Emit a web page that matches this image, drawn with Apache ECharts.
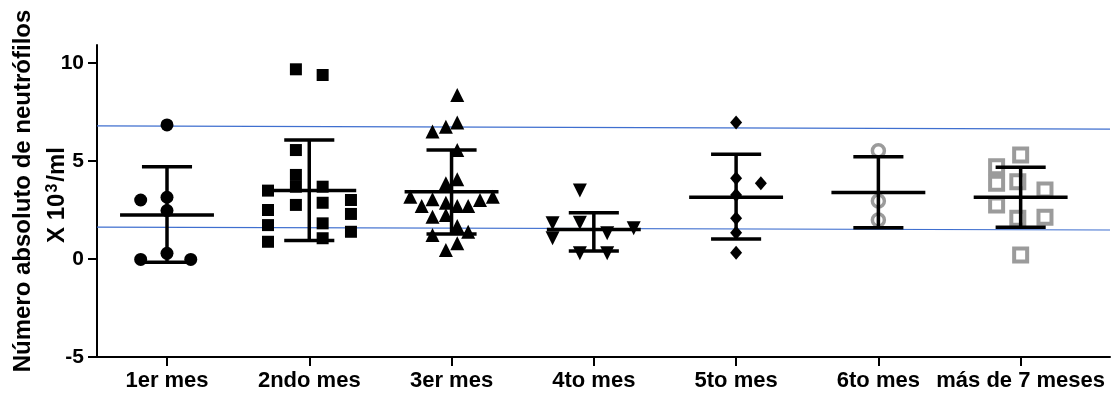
<!DOCTYPE html>
<html>
<head>
<meta charset="utf-8">
<script src="https://cdn.jsdelivr.net/npm/echarts@6/dist/echarts.min.js"></script>
<style>html,body{margin:0;padding:0;background:#fff;}#c{width:1117px;height:396px;}</style>
</head>
<body>
<div id="c"></div>
<script>
const categories = ['1er mes', '2ndo mes', '3er mes', '4to mes', '5to mes', '6to mes', 'más de 7 meses'];
const yTicks = [-5, 0, 5, 10];

// points per group: [horizontal offset within group (category units), value]
const g1 = [[0, 6.84], [0, 3.15], [0, 2.47], [0, 0.29], [-0.185, 3.01], [-0.185, -0.02], [0.167, -0.02]];
const g2 = [[-0.094, 9.68], [0.094, 9.39], [-0.094, 5.56], [-0.094, 4.29], [-0.094, 3.69], [-0.094, 2.76],
            [-0.29, 3.49], [-0.29, 2.5], [-0.29, 1.73], [-0.29, 0.88],
            [0.094, 3.69], [0.094, 2.87], [0.094, 1.82], [0.094, 1.06],
            [0.293, 3.01], [0.293, 2.3], [0.293, 1.39]];
const g3 = [[0.04, 8.37], [-0.134, 6.5], [-0.04, 6.75], [0.04, 6.96], [0.04, 5.56],
            [-0.04, 3.86], [0.04, 4.07], [-0.29, 3.18], [-0.21, 2.7], [-0.134, 3.05], [-0.04, 2.87],
            [0.04, 2.7], [0.117, 2.7], [0.2, 3.01], [0.29, 3.18], [-0.134, 2.16], [-0.04, 2.24],
            [0.04, 1.68], [0.117, 1.39], [-0.134, 1.22], [-0.04, 0.46], [0.04, 0.8]];
const g4 = [[-0.098, 3.49], [-0.29, 1.82], [-0.098, 1.85], [-0.29, 1.06], [0.094, 1.31], [0.28, 1.57], [-0.098, 0.29], [0.094, 0.29]];
const g5 = [[0, 6.96], [0, 4.12], [0.174, 3.86], [0, 3.27], [0, 2.08], [0, 1.34], [0, 0.32]];
const g6 = [[0, 5.53], [0, 2.96], [0, 1.99]];
const g7 = [[0, 5.31], [-0.169, 4.71], [-0.169, 3.86], [-0.02, 3.94], [0.171, 3.52], [-0.169, 2.76], [-0.02, 2.08], [0.171, 2.13], [0, 0.2]];

// mean and SD bars per group
const means = [2.24, 3.49, 3.43, 1.51, 3.15, 3.40, 3.15];
const upper = [4.71, 6.07, 5.56, 2.36, 5.34, 5.22, 4.68];
const lower = [-0.17, 0.94, 1.28, 0.41, 1.02, 1.60, 1.62];

// reference (blue) lines: [value at left end, value at right end]
const refHigh = [6.79, 6.63];
const refLow = [1.63, 1.48];

const X_MIN = -0.492, X_MAX = 6.628;
const FONT = '"Liberation Sans", Arial, sans-serif';

function pts(arr, gi) { return arr.map(p => [gi + p[0], p[1]]); }

const chart = echarts.init(document.getElementById('c'), null, {renderer: 'canvas'});

const black = '#000';
const gray = '#9b9b9b';

const scatterCommon = {type: 'scatter', silent: true, z: 3};

const option = {
  animation: false,
  backgroundColor: '#fff',
  grid: {left: 97, right: 7, top: 45, bottom: 39, containLabel: false},
  xAxis: {
    type: 'value', min: X_MIN, max: X_MAX,
    splitLine: {show: false},
    axisLine: {show: true, onZero: false, lineStyle: {color: black, width: 2}},
    axisTick: {show: true, length: 9, lineStyle: {color: black, width: 2}, customValues: categories.map((c, i) => i)},
    axisLabel: {
      customValues: categories.map((c, i) => i),
      formatter: v => categories[Math.round(v)],
      color: black, fontWeight: 'bold', fontSize: 22, fontFamily: FONT, margin: 13
    }
  },
  yAxis: {
    type: 'value', min: -5, max: 10.92,
    splitLine: {show: false},
    axisLine: {show: true, onZero: false, lineStyle: {color: black, width: 2}},
    axisTick: {show: true, length: 9, lineStyle: {color: black, width: 2}, customValues: yTicks},
    axisLabel: {customValues: yTicks, color: black, fontWeight: 'bold', fontSize: 21, fontFamily: FONT, margin: 13}
  },
  graphic: [
    {type: 'text', x: 23, y: 191, rotation: Math.PI / 2,
     style: {text: 'Número absoluto de neutrófilos', fill: black, font: 'bold 24px ' + FONT, textAlign: 'center', textVerticalAlign: 'middle'}},
    {type: 'text', x: 57, y: 195, rotation: Math.PI / 2,
     style: {text: 'X 10{sup|3}/ml', fill: black, font: 'bold 24px ' + FONT, textAlign: 'center', textVerticalAlign: 'middle',
             rich: {sup: {fontSize: 16, fontWeight: 'bold', fontFamily: FONT, verticalAlign: 'top', padding: [0, 2, 10, 1], lineHeight: 24}}}}
  ],
  series: [
    {type: 'line', silent: true, symbol: 'none', z: 1, lineStyle: {color: '#3f6fcf', width: 1.2},
     data: [[X_MIN, refHigh[0]], [X_MAX, refHigh[1]]]},
    {type: 'line', silent: true, symbol: 'none', z: 1, lineStyle: {color: '#3f6fcf', width: 1.2},
     data: [[X_MIN, refLow[0]], [X_MAX, refLow[1]]]},
    Object.assign({}, scatterCommon, {symbol: 'circle', symbolSize: 13, itemStyle: {color: black, opacity: 1}, data: pts(g1, 0)}),
    Object.assign({}, scatterCommon, {symbol: 'rect', symbolSize: 12, itemStyle: {color: black, opacity: 1}, data: pts(g2, 1)}),
    Object.assign({}, scatterCommon, {symbol: 'triangle', symbolSize: 14, itemStyle: {color: black, opacity: 1}, data: pts(g3, 2)}),
    Object.assign({}, scatterCommon, {symbol: 'triangle', symbolRotate: 180, symbolSize: 14, itemStyle: {color: black, opacity: 1}, data: pts(g4, 3)}),
    Object.assign({}, scatterCommon, {symbol: 'diamond', symbolSize: [12, 14], itemStyle: {color: black, opacity: 1}, data: pts(g5, 4)}),
    Object.assign({}, scatterCommon, {symbol: 'circle', symbolSize: 12, itemStyle: {color: 'rgba(255,255,255,0)', borderColor: gray, borderWidth: 3.5, opacity: 1}, data: pts(g6, 5)}),
    Object.assign({}, scatterCommon, {symbol: 'rect', symbolSize: 13, itemStyle: {color: 'rgba(255,255,255,0)', borderColor: gray, borderWidth: 4, opacity: 1}, data: pts(g7, 6)}),
    {
      type: 'custom', silent: true, z: 5,
      data: means.map((m, i) => [i, m, upper[i], lower[i]]),
      renderItem: function (params, api) {
        const i = api.value(0);
        const unit = api.size([1, 0])[0];
        const pm = api.coord([i, api.value(1)]);
        const pu = api.coord([i, api.value(2)]);
        const pl = api.coord([i, api.value(3)]);
        const mh = unit * 0.33, ch = unit * 0.176;
        const st = {stroke: black, lineWidth: 3.5};
        return {
          type: 'group',
          children: [
            {type: 'line', shape: {x1: pm[0] - mh, y1: pm[1], x2: pm[0] + mh, y2: pm[1]}, style: st},
            {type: 'line', shape: {x1: pu[0], y1: pu[1], x2: pl[0], y2: pl[1]}, style: st},
            {type: 'line', shape: {x1: pu[0] - ch, y1: pu[1], x2: pu[0] + ch, y2: pu[1]}, style: st},
            {type: 'line', shape: {x1: pl[0] - ch, y1: pl[1], x2: pl[0] + ch, y2: pl[1]}, style: st}
          ]
        };
      }
    }
  ]
};
chart.setOption(option);
</script>
</body>
</html>
